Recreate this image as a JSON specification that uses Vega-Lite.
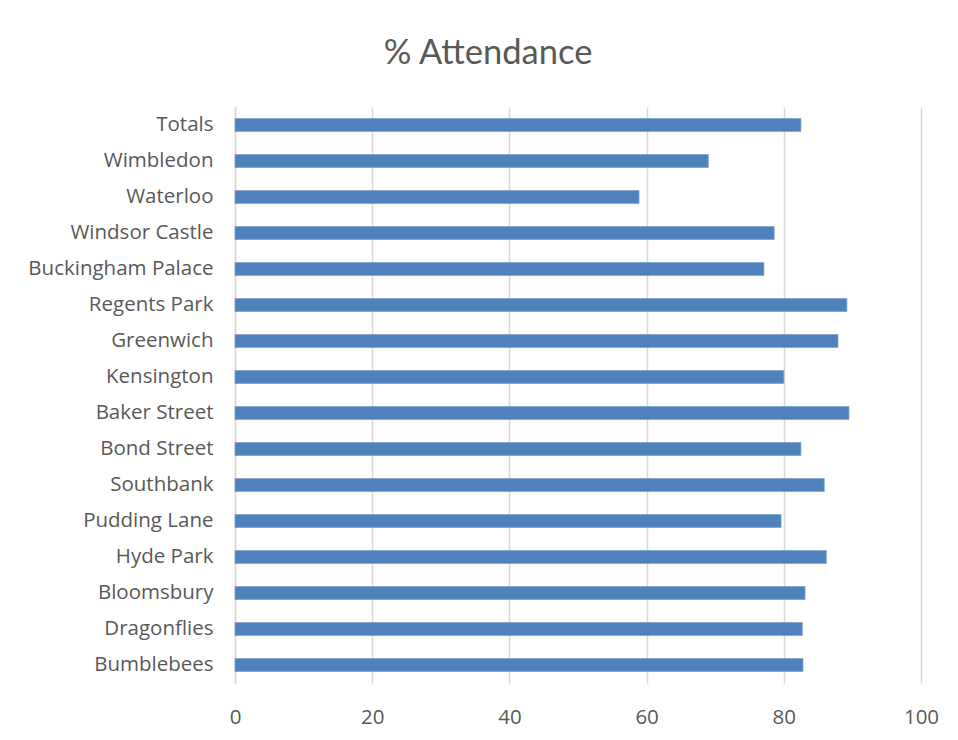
{
  "$schema": "https://vega.github.io/schema/vega-lite/v6.json",
  "width": 686,
  "height": 576,
  "autosize": {"type": "none"},
  "padding": {"left": 235, "top": 107, "right": 37, "bottom": 57},
  "background": "white",
  "title": {
    "text": "% Attendance",
    "font": "Lato",
    "fontSize": 34.5,
    "fontWeight": "normal",
    "color": "#595959",
    "anchor": "middle",
    "frame": "group",
    "baseline": "alphabetic",
    "offset": 9,
    "dx": -90
  },
  "data": {
    "values": [
      {"site": "Totals", "pct": 82.5},
      {"site": "Wimbledon", "pct": 69.0},
      {"site": "Waterloo", "pct": 58.9},
      {"site": "Windsor Castle", "pct": 78.6},
      {"site": "Buckingham Palace", "pct": 77.1},
      {"site": "Regents Park", "pct": 89.2},
      {"site": "Greenwich", "pct": 87.9},
      {"site": "Kensington", "pct": 80.0},
      {"site": "Baker Street", "pct": 89.5},
      {"site": "Bond Street", "pct": 82.5},
      {"site": "Southbank", "pct": 85.9},
      {"site": "Pudding Lane", "pct": 79.6},
      {"site": "Hyde Park", "pct": 86.2},
      {"site": "Bloomsbury", "pct": 83.1},
      {"site": "Dragonflies", "pct": 82.7},
      {"site": "Bumblebees", "pct": 82.8}
    ]
  },
  "mark": {"type": "bar", "color": "#4f81bd", "stroke": "#7da2cf", "strokeWidth": 0.7},
  "encoding": {
    "y": {
      "field": "site",
      "type": "nominal",
      "sort": null,
      "title": null,
      "scale": {"paddingInner": 0.64, "paddingOuter": 0.32},
      "axis": {
        "ticks": false,
        "domain": true,
        "domainColor": "#d9d9d9",
        "domainWidth": 1.5,
        "labelFont": "Open Sans",
        "labelFontSize": 20.5,
        "labelColor": "#595959",
        "labelPadding": 22,
        "labelLimit": 300,
        "grid": false
      }
    },
    "x": {
      "field": "pct",
      "type": "quantitative",
      "title": null,
      "scale": {"domain": [0, 100], "nice": false},
      "axis": {
        "values": [0, 20, 40, 60, 80, 100],
        "ticks": false,
        "domain": false,
        "grid": true,
        "gridColor": "#d9d9d9",
        "gridWidth": 1.5,
        "labelFont": "Open Sans",
        "labelFontSize": 20.5,
        "labelColor": "#595959",
        "labelPadding": 24,
        "labelFlush": false
      }
    }
  },
  "config": {"view": {"stroke": null}}
}
